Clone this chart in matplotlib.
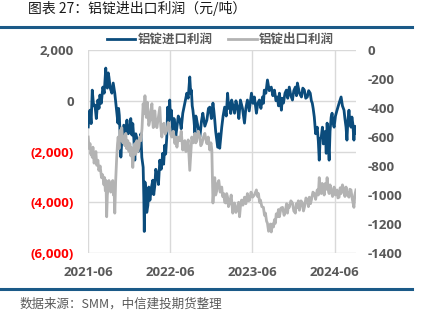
import matplotlib.pyplot as plt
import matplotlib.dates as mdates
from matplotlib.lines import Line2D
import pandas as pd

plt.rcParams['font.family'] = ['Open Sans', 'Noto Sans CJK SC', 'DejaVu Sans']

# 铝锭进口利润 (left axis)
import_dates = [
    '2021-06-02', '2021-06-06', '2021-06-10', '2021-06-15', '2021-06-20', '2021-06-26',
    '2021-07-02', '2021-07-08', '2021-07-15', '2021-07-20', '2021-07-24', '2021-07-30',
    '2021-08-06', '2021-08-12', '2021-08-19', '2021-08-22', '2021-08-26', '2021-08-30',
    '2021-09-02', '2021-09-08', '2021-09-15', '2021-09-21', '2021-09-28', '2021-10-05',
    '2021-10-12', '2021-10-15', '2021-10-18', '2021-10-21', '2021-10-25', '2021-10-31',
    '2021-11-07', '2021-11-14', '2021-11-21', '2021-11-27', '2021-12-04', '2021-12-08',
    '2021-12-13', '2021-12-17', '2021-12-22', '2021-12-26', '2021-12-30', '2022-01-04',
    '2022-01-10', '2022-01-17', '2022-01-22', '2022-01-26', '2022-02-01', '2022-02-04',
    '2022-02-06', '2022-02-09', '2022-02-13', '2022-02-17', '2022-02-22', '2022-02-26',
    '2022-03-03', '2022-03-10', '2022-03-16', '2022-03-20', '2022-03-25', '2022-03-29',
    '2022-04-03', '2022-04-10', '2022-04-16', '2022-04-22', '2022-04-29', '2022-05-03',
    '2022-05-08', '2022-05-12', '2022-05-17', '2022-05-21', '2022-05-26', '2022-05-30',
    '2022-06-02', '2022-06-06', '2022-06-10', '2022-06-13', '2022-06-18', '2022-06-22',
    '2022-06-26', '2022-07-01', '2022-07-07', '2022-07-14', '2022-07-20', '2022-07-27',
    '2022-08-05', '2022-08-14', '2022-08-20', '2022-08-27', '2022-08-31', '2022-09-03',
    '2022-09-07', '2022-09-10', '2022-09-15', '2022-09-19', '2022-09-23', '2022-09-27',
    '2022-10-04', '2022-10-11', '2022-10-18', '2022-10-24', '2022-11-02', '2022-11-11',
    '2022-11-18', '2022-11-24', '2022-12-01', '2022-12-08', '2022-12-12', '2022-12-16',
    '2022-12-20', '2022-12-25', '2022-12-29', '2023-01-03', '2023-01-07', '2023-01-11',
    '2023-01-16', '2023-01-22', '2023-01-29', '2023-02-05', '2023-02-11', '2023-02-16',
    '2023-02-20', '2023-02-25', '2023-03-01', '2023-03-07', '2023-03-14', '2023-03-20',
    '2023-03-27', '2023-04-02', '2023-04-09', '2023-04-18', '2023-04-27', '2023-05-03',
    '2023-05-10', '2023-05-18', '2023-05-28', '2023-06-04', '2023-06-10', '2023-06-15',
    '2023-06-19', '2023-06-25', '2023-07-02', '2023-07-09', '2023-07-16', '2023-07-20',
    '2023-07-24', '2023-07-31', '2023-08-07', '2023-08-15', '2023-08-24', '2023-08-31',
    '2023-09-07', '2023-09-14', '2023-09-20', '2023-09-25', '2023-09-29', '2023-10-03',
    '2023-10-08', '2023-10-12', '2023-10-17', '2023-10-24', '2023-10-30', '2023-11-05',
    '2023-11-12', '2023-11-19', '2023-11-26', '2023-12-02', '2023-12-09', '2023-12-14',
    '2023-12-18', '2023-12-27', '2024-01-05', '2024-01-11', '2024-01-18', '2024-01-24',
    '2024-01-31', '2024-02-06', '2024-02-13', '2024-02-18', '2024-02-22', '2024-02-26',
    '2024-03-02', '2024-03-08', '2024-03-15', '2024-03-20', '2024-03-24', '2024-03-28',
    '2024-04-02', '2024-04-07', '2024-04-11', '2024-04-15', '2024-04-20', '2024-04-24',
    '2024-04-28', '2024-05-02', '2024-05-07', '2024-05-11', '2024-05-16', '2024-05-20',
    '2024-05-25', '2024-05-29', '2024-06-04', '2024-06-11', '2024-06-20', '2024-06-29',
    '2024-07-05', '2024-07-12', '2024-07-16', '2024-07-21', '2024-07-25', '2024-07-29',
    '2024-08-03', '2024-08-07', '2024-08-12', '2024-08-16', '2024-08-20', '2024-08-25',
    '2024-08-29', '2024-09-03',
]
import_profit = [
    -1030, -500, -370, -900, 420, -200,
    -170, -700, 30, -300, 225, -100,
    540, 300, 1290, 700, 500, 1100,
    940, 500, 300, 700, 300, -300,
    -880, -300, -565, -1200, -2220, -1300,
    -960, -1400, -760, -1300, -1080, -700,
    -1350, -900, -1550, -2340, -1300, -1470,
    -2000, -1750, -1300, -2220, -2620, -3800,
    -5150, -3200, -3530, -4400, -4120, -3400,
    -3920, -3400, -3130, -3700, -3330, -2700,
    -2860, -3300, -2340, -2700, -2070, -2500,
    -1750, -2100, -1430, -250, -800, 30,
    -700, -370, -900, -1280, -700, -960,
    -1400, -1040, -600, -760, -1100, -490,
    -100, 300, 100, 940, 300, 420,
    -200, -370, -800, -1280, -600, -760,
    -1100, -1430, -800, -490, -1000, -760,
    -300, -250, -700, -90, -400, -760,
    -1200, -1550, -1830, -1300, -1870, -1500,
    -1040, -600, -250, -600, 300, -300,
    -90, -500, 30, -200, -490, 0,
    -250, -700, 30, -300, -880, -300,
    30, -400, 300, -100, 150, -200,
    -490, -100, 30, -300, 150, -100,
    420, 300, 820, 400, 540, 200,
    420, 0, 150, -200, 300, 0,
    -370, 100, -90, 300, 420, 100,
    540, 200, 30, 400, 540, 200,
    700, 300, 150, 500, 420, 100,
    150, 400, 300, 0, -90, -300,
    -640, -1300, -1040, -1600, -2340, -1500,
    -1430, -1040, -1700, -1550, -1200, -2070,
    -880, -1500, -2340, -1200, -640, -490,
    -900, -1040, -600, -370, -100, 150,
    -200, -370, -700, -1040, -1550, -800,
    -370, -800, -1040, -640, -900, -1550,
    -1000, -1280,
]

# 铝锭出口利润 (right axis)
export_dates = [
    '2021-06-02', '2021-06-06', '2021-06-10', '2021-06-14', '2021-06-17', '2021-06-20',
    '2021-06-23', '2021-06-28', '2021-07-02', '2021-07-06', '2021-07-10', '2021-07-15',
    '2021-07-19', '2021-07-25', '2021-07-31', '2021-08-05', '2021-08-11', '2021-08-14',
    '2021-08-17', '2021-08-20', '2021-08-23', '2021-08-26', '2021-08-28', '2021-09-02',
    '2021-09-06', '2021-09-10', '2021-09-15', '2021-09-19', '2021-09-22', '2021-09-25',
    '2021-09-28', '2021-10-02', '2021-10-06', '2021-10-10', '2021-10-13', '2021-10-17',
    '2021-10-21', '2021-10-25', '2021-10-29', '2021-11-03', '2021-11-07', '2021-11-12',
    '2021-11-16', '2021-11-20', '2021-11-25', '2021-11-30', '2021-12-04', '2021-12-08',
    '2021-12-11', '2021-12-14', '2021-12-17', '2021-12-21', '2021-12-26', '2021-12-30',
    '2022-01-04', '2022-01-08', '2022-01-13', '2022-01-17', '2022-01-22', '2022-01-27',
    '2022-02-01', '2022-02-05', '2022-02-09', '2022-02-12', '2022-02-15', '2022-02-19',
    '2022-02-22', '2022-02-26', '2022-03-03', '2022-03-07', '2022-03-12', '2022-03-15',
    '2022-03-18', '2022-03-21', '2022-03-25', '2022-03-29', '2022-04-03', '2022-04-10',
    '2022-04-16', '2022-04-20', '2022-04-25', '2022-04-29', '2022-05-04', '2022-05-10',
    '2022-05-17', '2022-05-23', '2022-05-30', '2022-06-03', '2022-06-08', '2022-06-15',
    '2022-06-22', '2022-06-26', '2022-07-01', '2022-07-07', '2022-07-14', '2022-07-20',
    '2022-07-27', '2022-08-01', '2022-08-05', '2022-08-10', '2022-08-14', '2022-08-20',
    '2022-08-27', '2022-09-01', '2022-09-05', '2022-09-12', '2022-09-19', '2022-09-23',
    '2022-09-27', '2022-10-04', '2022-10-11', '2022-10-15', '2022-10-20', '2022-10-27',
    '2022-11-02', '2022-11-07', '2022-11-11', '2022-11-17', '2022-11-24', '2022-11-29',
    '2022-12-03', '2022-12-08', '2022-12-12', '2022-12-16', '2022-12-20', '2022-12-25',
    '2022-12-29', '2023-01-03', '2023-01-09', '2023-01-16', '2023-01-20', '2023-01-25',
    '2023-01-29', '2023-02-03', '2023-02-07', '2023-02-11', '2023-02-15', '2023-02-20',
    '2023-02-27', '2023-03-06', '2023-03-10', '2023-03-14', '2023-03-20', '2023-03-27',
    '2023-04-01', '2023-04-05', '2023-04-09', '2023-04-14', '2023-04-20', '2023-04-27',
    '2023-05-03', '2023-05-10', '2023-05-15', '2023-05-20', '2023-05-26', '2023-06-02',
    '2023-06-10', '2023-06-19', '2023-06-24', '2023-06-28', '2023-07-03', '2023-07-07',
    '2023-07-13', '2023-07-20', '2023-07-25', '2023-07-29', '2023-08-03', '2023-08-07',
    '2023-08-12', '2023-08-16', '2023-08-20', '2023-08-24', '2023-08-29', '2023-09-03',
    '2023-09-07', '2023-09-11', '2023-09-15', '2023-09-20', '2023-09-25', '2023-09-29',
    '2023-10-06', '2023-10-13', '2023-10-20', '2023-10-26', '2023-10-31', '2023-11-04',
    '2023-11-08', '2023-11-12', '2023-11-19', '2023-11-26', '2023-12-02', '2023-12-09',
    '2023-12-13', '2023-12-18', '2023-12-22', '2023-12-27', '2024-01-03', '2024-01-09',
    '2024-01-14', '2024-01-18', '2024-01-25', '2024-01-31', '2024-02-05', '2024-02-09',
    '2024-02-14', '2024-02-18', '2024-02-25', '2024-03-02', '2024-03-08', '2024-03-15',
    '2024-03-20', '2024-03-24', '2024-03-28', '2024-04-02', '2024-04-06', '2024-04-11',
    '2024-04-15', '2024-04-20', '2024-04-24', '2024-04-28', '2024-05-02', '2024-05-07',
    '2024-05-11', '2024-05-16', '2024-05-22', '2024-05-29', '2024-06-04', '2024-06-11',
    '2024-06-15', '2024-06-20', '2024-06-25', '2024-06-29', '2024-07-05', '2024-07-12',
    '2024-07-16', '2024-07-21', '2024-07-27', '2024-08-03', '2024-08-07', '2024-08-12',
    '2024-08-18', '2024-08-25', '2024-08-29', '2024-09-03',
]
export_profit = [
    -600, -680, -645, -720, -690, -740,
    -670, -780, -760, -700, -795, -760,
    -830, -800, -880, -860, -930, -880,
    -970, -900, -1150, -1000, -970, -900,
    -920, -980, -945, -900, -1000, -960,
    -1125, -900, -760, -650, -600, -680,
    -555, -620, -535, -640, -600, -660,
    -575, -680, -625, -700, -645, -730,
    -670, -720, -810, -700, -645, -720,
    -625, -700, -670, -600, -625, -540,
    -370, -440, -315, -400, -465, -360,
    -420, -520, -485, -420, -370, -480,
    -535, -440, -420, -500, -535, -460,
    -395, -520, -600, -520, -505, -580,
    -555, -500, -535, -580, -600, -560,
    -645, -600, -670, -600, -625, -560,
    -690, -640, -625, -700, -670, -620,
    -830, -700, -600, -640, -575, -640,
    -625, -560, -600, -660, -645, -600,
    -575, -620, -645, -600, -690, -640,
    -690, -1055, -950, -880, -1000, -970,
    -920, -900, -980, -945, -1010, -990,
    -1050, -1055, -990, -1015, -1080, -1055,
    -1000, -1125, -1060, -1055, -1120, -1085,
    -1050, -1150, -1080, -1035, -1070, -1015,
    -1060, -990, -1040, -1035, -980, -1015,
    -1000, -965, -1010, -990, -1050, -1035,
    -1080, -1085, -1140, -1125, -1180, -1195,
    -1250, -1230, -1200, -1255, -1200, -1220,
    -1170, -1195, -1130, -1150, -1100, -1150,
    -1090, -1085, -1140, -1105, -1060, -1125,
    -1070, -1085, -1040, -1055, -1110, -1125,
    -1060, -1085, -1040, -1105, -1040, -1055,
    -1110, -1085, -1020, -1035, -1080, -1015,
    -1060, -1035, -980, -990, -1030, -965,
    -1000, -880, -960, -990, -920, -945,
    -1000, -920, -960, -880, -960, -990,
    -930, -965, -1010, -945, -1000, -965,
    -1020, -1015, -950, -990, -930, -965,
    -1010, -945, -1000, -1015, -960, -965,
    -1030, -1085, -1000, -965,
]

year_ticks = ['2021-06-01', '2022-06-01', '2023-06-01', '2024-06-01']
left_ticks = [2000, 0, -2000, -4000, -6000]
right_ticks = [0, -200, -400, -600, -800, -1000, -1200, -1400]

BLUE = '#0B4C7C'
GRAY = '#B3B3B3'
TEXT = '#595959'
RULE = '#1B5A88'

fig = plt.figure(figsize=(4.24, 3.25), dpi=100)
ax = fig.add_axes([0.2075, 0.2215, 0.632, 0.6245])
ax2 = ax.twinx()

imp_d = pd.to_datetime(import_dates)
exp_d = pd.to_datetime(export_dates)
ax.plot(imp_d, import_profit, color=BLUE, lw=2.0)
ax2.plot(exp_d, export_profit, color=GRAY, lw=2.0)

ax.set_xlim(pd.Timestamp('2021-06-01'), pd.Timestamp('2024-09-03'))
ax.set_ylim(-6000, 2000)
ax2.set_ylim(-1400, 0)

ax.set_xticks(pd.to_datetime(year_ticks))
ax.xaxis.set_major_formatter(mdates.DateFormatter('%Y-%m'))
ax.set_yticks(left_ticks)
ax.set_yticklabels([f'{v:,}' if v >= 0 else f'({-v:,})' for v in left_ticks])
for lab, v in zip(ax.get_yticklabels(), left_ticks):
    lab.set_color(TEXT if v >= 0 else '#FF0000')
ax2.set_yticks(right_ticks)
ax2.set_yticklabels([str(v) for v in right_ticks])

ax.grid(True, color='#D9D9D9', lw=1)
ax.set_axisbelow(True)
for a in (ax, ax2):
    for s in a.spines.values():
        s.set_visible(False)
ax.tick_params(axis='both', length=0, labelsize=9.5)
ax.tick_params(axis='y', pad=10)
ax.tick_params(axis='x', pad=9, labelcolor=TEXT)
ax2.tick_params(axis='y', length=0, labelsize=9.5, pad=8.5, labelcolor=TEXT)
for lab in ax.get_xticklabels() + ax.get_yticklabels() + ax2.get_yticklabels():
    lab.set_fontweight('bold')

handles = [Line2D([], [], color=BLUE, lw=2.0), Line2D([], [], color=GRAY, lw=2.0)]
leg = fig.legend(handles, ['铝锭进口利润', '铝锭出口利润'], loc='center',
                 bbox_to_anchor=(0.52, 0.878), ncol=2, frameon=False,
                 handlelength=2.3, handletextpad=0.2, columnspacing=1.2,
                 prop={'family': ['Noto Sans CJK SC'], 'weight': 'bold', 'size': 9})
for t in leg.get_texts():
    t.set_color(TEXT)

# header / footer rules and captions
fig.add_artist(Line2D([0, 0.972], [0.916, 0.916], color=RULE, lw=2.2))
fig.add_artist(Line2D([0, 0.972], [0.1108, 0.1108], color=RULE, lw=2.2))
fig.text(0.066, 0.975, '图表 27：铝锭进出口利润（元/吨）', fontsize=10,
         family=['Noto Sans CJK SC'], color='#1A1A1A', va='center', ha='left')
fig.text(0.047, 0.0646, '数据来源：SMM，中信建投期货整理', fontsize=9,
         family=['Noto Sans CJK SC'], color=TEXT, va='center', ha='left')

fig.savefig('out.png', dpi=100)
